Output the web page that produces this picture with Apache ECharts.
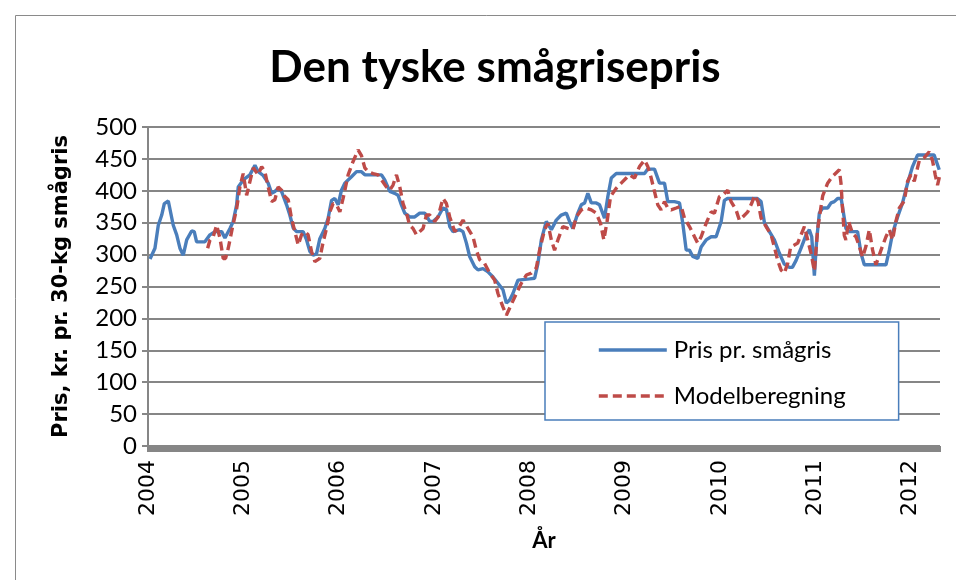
<!DOCTYPE html>
<html>
<head>
<meta charset="utf-8">
<script src="https://cdn.jsdelivr.net/npm/echarts@6/dist/echarts.min.js"></script>
<style>
html,body{margin:0;padding:0;background:#fff;}
#c{width:956px;height:580px;}
</style>
</head>
<body>
<div id="c"></div>
<script>
const titleText = 'Den tyske smågrisepris';
const yAxisName = 'Pris, kr. pr. 30-kg smågris';
const xAxisName = 'År';
const seriesNames = ['Pris pr. smågris', 'Modelberegning'];
const yearLabels = ['2004','2005','2006','2007','2008','2009','2010','2011','2012'];

const priceYears = [2004.021,2004.073,2004.108,2004.144,2004.171,2004.213,2004.231,2004.265,2004.301,2004.335,
2004.370,2004.406,2004.458,2004.485,2004.510,2004.597,2004.650,2004.702,2004.773,2004.807,
2004.860,2004.894,2004.930,2004.947,2004.999,
2005.017,2005.069,2005.122,2005.156,2005.209,2005.261,2005.297,2005.331,2005.366,2005.401,
2005.454,2005.488,2005.523,2005.559,2005.628,2005.664,2005.698,2005.733,2005.768,2005.803,
2005.855,2005.890,2005.926,2005.960,2005.995,
2006.030,2006.065,2006.083,2006.135,2006.188,2006.240,2006.275,2006.450,2006.484,2006.537,
2006.589,2006.624,2006.659,2006.694,2006.746,2006.799,2006.851,2006.904,2006.956,2006.991,
2007.043,2007.095,2007.131,2007.166,2007.200,2007.270,2007.305,2007.341,2007.375,2007.428,
2007.462,2007.515,2007.567,2007.620,2007.672,2007.724,2007.760,2007.795,2007.829,2007.882,
2008.004,2008.057,2008.091,2008.127,2008.179,2008.232,2008.284,2008.336,2008.389,2008.423,
2008.458,2008.510,2008.546,2008.581,2008.615,2008.651,2008.703,2008.738,2008.790,2008.825,
2008.861,2008.913,
2009.210,2009.244,2009.314,2009.367,2009.419,2009.454,2009.524,2009.577,2009.611,2009.647,
2009.681,2009.716,2009.768,2009.804,2009.856,2009.909,2009.961,
2010.014,2010.048,2010.080,2010.394,2010.433,2010.468,2010.520,2010.572,2010.625,2010.677,
2010.730,2010.761,2010.800,2010.852,2010.905,2010.939,2010.964,2010.992,
2011.016,2011.044,2011.079,2011.131,2011.167,2011.201,2011.236,2011.273,2011.323,2011.358,
2011.445,2011.481,2011.516,2011.743,2011.778,2011.812,2011.865,2011.917,2011.970,
2012.022,2012.074,2012.249,2012.267,2012.302];

const priceValues = [293,310,346,362,380,384,382,346,331,310,
299,323,337,336,320,320,331,336,336,326,
341,352,378,406,417,
417,425,440,430,424,412,396,399,404,399,
378,362,342,336,336,323,305,299,301,325,
341,357,385,388,378,
401,412,414,422,430,430,425,425,417,399,
396,393,378,365,359,359,365,365,352,352,
359,373,371,344,336,339,336,318,297,281,
276,278,273,265,255,245,224,229,239,260,
262,263,286,323,352,339,354,362,365,352,
341,365,378,381,396,381,381,378,357,391,
420,427,
427,434,434,412,412,383,383,381,349,307,
307,297,294,312,323,328,328,
352,385,388,388,383,350,336,323,302,285,
280,280,291,310,331,339,328,267,
323,365,373,373,381,383,388,388,341,336,
336,302,284,284,307,333,359,381,412,
438,456,456,448,433];

const modelYears = [2004.626,2004.650,2004.684,2004.720,2004.755,2004.789,2004.814,2004.842,2004.884,2004.930,
2004.964,2004.999,
2005.035,2005.104,2005.156,2005.192,2005.226,2005.261,2005.297,2005.331,2005.366,2005.401,
2005.436,2005.471,2005.506,2005.541,2005.576,2005.611,2005.646,2005.680,2005.716,2005.751,
2005.803,2005.838,2005.873,2005.908,2005.942,2005.978,
2006.013,2006.047,2006.100,2006.152,2006.204,2006.240,2006.275,2006.309,2006.362,2006.414,
2006.450,2006.502,2006.537,2006.571,2006.607,2006.642,2006.676,2006.712,2006.746,2006.781,
2006.817,2006.851,2006.886,2006.922,2006.956,
2007.008,2007.043,2007.095,2007.131,2007.166,2007.218,2007.253,2007.305,2007.357,2007.410,
2007.445,2007.480,2007.532,2007.585,2007.637,2007.672,2007.724,2007.760,2007.812,2007.865,
2007.917,2007.970,
2008.022,2008.074,2008.109,2008.161,2008.196,2008.232,2008.266,2008.301,2008.353,2008.405,
2008.458,2008.494,2008.546,2008.598,2008.651,2008.703,2008.748,2008.783,2008.819,2008.853,
2008.913,2008.965,
2009.018,2009.052,2009.105,2009.157,2009.210,2009.244,2009.280,2009.314,2009.349,2009.384,
2009.419,2009.454,2009.489,2009.542,2009.594,2009.629,2009.681,2009.734,2009.768,2009.804,
2009.856,2009.909,2009.943,2009.996,
2010.030,2010.083,2010.118,2010.170,2010.205,2010.240,2010.293,2010.333,2010.366,2010.401,
2010.433,2010.485,2010.538,2010.572,2010.607,2010.642,2010.677,2010.712,2010.743,2010.782,
2010.817,2010.852,2010.887,2010.922,2010.957,2010.992,
2011.027,2011.079,2011.131,2011.184,2011.254,2011.271,2011.288,2011.306,2011.323,2011.351,
2011.393,2011.428,2011.463,2011.498,2011.533,2011.568,2011.603,2011.638,2011.691,2011.743,
2011.778,2011.812,2011.847,2011.883,2011.935,2011.970,
2012.005,2012.040,2012.092,2012.145,2012.197,2012.232,2012.260,2012.284,2012.309];

const modelValues = [310,323,328,346,326,294,294,310,341,372,
406,427,
393,436,425,438,430,406,383,386,406,401,
391,386,357,336,315,331,336,331,305,289,
294,320,341,367,380,378,
367,388,425,446,464,455,436,430,427,425,
417,406,401,409,425,406,380,365,346,341,
331,336,341,362,362,
352,359,388,380,359,336,341,354,341,328,
307,292,286,271,260,239,218,205,222,239,
255,268,
271,279,307,339,349,323,307,323,344,341,
339,359,370,373,370,365,349,323,354,391,
404,412,
420,425,420,438,448,438,420,399,378,370,
383,373,370,373,376,357,344,328,318,328,
349,367,365,391,
393,401,383,370,354,359,367,380,393,383,
357,344,331,312,291,276,271,286,312,315,
318,331,344,323,302,274,
341,392,412,423,433,412,371,330,323,352,
333,328,313,296,313,339,307,284,307,328,
339,323,352,373,384,415,
425,415,447,452,461,447,425,409,425];

const chart = echarts.init(document.getElementById('c'), null, {renderer: 'canvas'});
const gray = '#868686';
chart.setOption({
  animation: false,
  backgroundColor: '#ffffff',
  title: {
    text: titleText,
    left: 490, top: 41, textAlign: 'center',
    textStyle: {fontFamily: 'Lato', fontWeight: 'bold', fontSize: 44, color: '#000'}
  },
  graphic: [{
    type: 'rect', silent: true, z: -10,
    shape: {x: 15.5, y: 15.5, width: 1200, height: 1200},
    style: {fill: 'none', stroke: '#8a8a8a', lineWidth: 1}
  }],
  legend: {
    orient: 'vertical',
    left: 545, top: 322,
    padding: [16, 53, 12, 52],
    itemGap: 22,
    itemWidth: 68, itemHeight: 24,
    backgroundColor: '#fff',
    borderColor: '#4A7EBB', borderWidth: 1.5,
    itemStyle: {opacity: 0, borderWidth: 0},
    lineStyle: {width: 3.6},
    textStyle: {fontFamily: 'Lato', fontSize: 24, color: '#000', padding: [0,0,0,2]},
    data: seriesNames
  },
  grid: {left: 148, right: 16, top: 127, bottom: 134, containLabel: false},
  xAxis: {
    type: 'value', min: 2004, max: 2012.31, interval: 1,
    name: xAxisName, nameLocation: 'middle', nameGap: 84,
    nameTextStyle: {fontFamily: 'Lato', fontWeight: 'bold', fontSize: 22, color: '#000'},
    axisLine: {show: true, lineStyle: {color: gray, width: 1}},
    axisTick: {show: true, length: 6, lineStyle: {color: gray, width: 2}},
    minorTick: {show: true, splitNumber: 52, length: 6, lineStyle: {color: gray, width: 2}},
    splitLine: {show: false},
    axisLabel: {
      rotate: 90, margin: 14,
      fontFamily: 'DejaVu Sans', fontSize: 22, color: '#000',
      formatter: function (v) {
        const i = Math.round(v) - 2004;
        return Math.abs(v - Math.round(v)) < 1e-6 && yearLabels[i] ? yearLabels[i] : '';
      }
    }
  },
  yAxis: {
    type: 'value', min: 0, max: 500, interval: 50,
    name: yAxisName, nameLocation: 'middle', nameGap: 76, nameRotate: 90,
    nameTextStyle: {fontFamily: 'DejaVu Sans', fontWeight: 'bold', fontSize: 21, color: '#000'},
    axisLine: {show: true, lineStyle: {color: gray, width: 2}},
    axisTick: {show: true, length: 6, lineStyle: {color: gray, width: 2}},
    splitLine: {show: true, lineStyle: {color: gray, width: 2}},
    axisLabel: {margin: 11, fontFamily: 'Lato', fontSize: 24, color: '#000'}
  },
  series: [
    {
      name: seriesNames[0], type: 'line', symbol: 'none', z: 3,
      data: priceYears.map((t, i) => [t, priceValues[i]]),
      lineStyle: {color: '#4A7EBB', width: 3.4},
      itemStyle: {color: '#4A7EBB'}
    },
    {
      name: seriesNames[1], type: 'line', symbol: 'none', z: 4,
      data: modelYears.map((t, i) => [t, modelValues[i]]),
      lineStyle: {color: '#BE4B48', width: 3.4, type: [9, 5]},
      itemStyle: {color: '#BE4B48'}
    }
  ]
});
</script>
</body>
</html>
